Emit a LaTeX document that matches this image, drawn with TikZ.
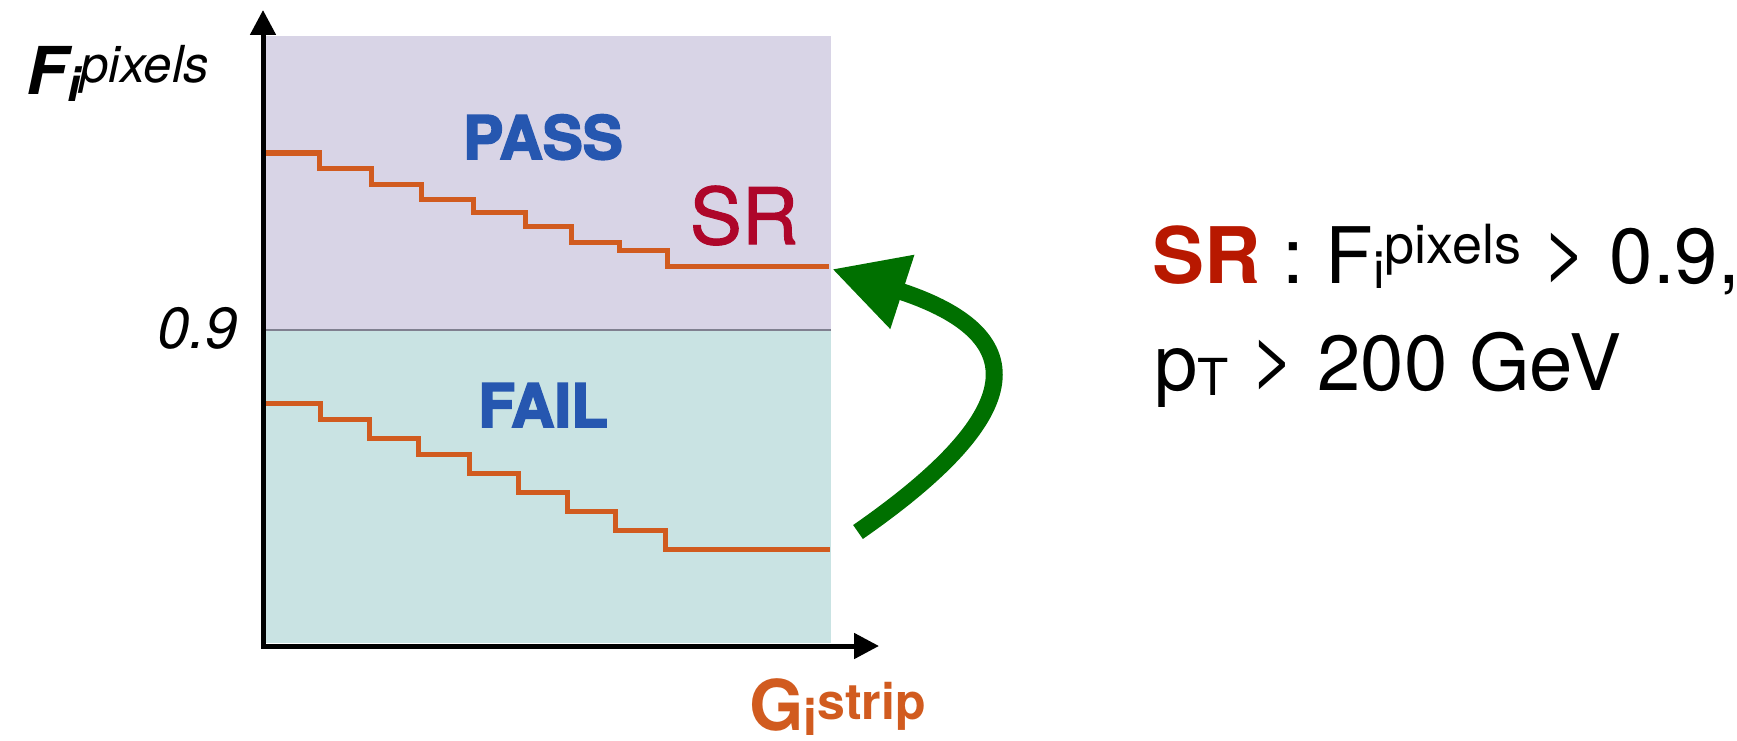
\documentclass[tikz,border=0pt]{standalone}
\usepackage{fontspec}
\setmainfont{TeX Gyre Heros}
\newfontfamily\heavyfont{TeX Gyre Heros}[FakeBold=3]
\newfontfamily\medfont{TeX Gyre Heros}[FakeBold=1.4]
\usetikzlibrary{arrows.meta}

\definecolor{passbg}{RGB}{216,212,230}
\definecolor{failbg}{RGB}{201,227,227}
\definecolor{cutline}{RGB}{128,128,144}
\definecolor{stepcol}{RGB}{209,91,31}
\definecolor{labelblue}{RGB}{38,87,176}
\definecolor{srplot}{RGB}{174,6,42}
\definecolor{srtext}{RGB}{184,24,0}
\definecolor{arrowgreen}{RGB}{0,112,0}

\newcommand\fsz[1]{\fontsize{#1}{#1}\selectfont}
\newcommand\gtsign{\raisebox{6pt}{>}}

\tikzset{
  axis/.style={line width=5pt, line join=miter,
    {Triangle[length=25pt,width=25pt]}-{Triangle[length=25pt,width=25pt]}},
  stairs/.style={draw=stepcol, line width=5pt, line join=miter},
  txt/.style={inner sep=0pt, outer sep=0pt},
  region/.style={txt, anchor=base, text=labelblue, font=\heavyfont\bfseries\fsz{60}},
  bigarrow/.style={draw=arrowgreen, line width=17pt,
    -{Triangle[length=74pt,width=73pt]}},
}

\begin{document}
\begin{tikzpicture}[x=1pt,y=-1pt]
\useasboundingbox (0,0) rectangle (1737,741);

% shaded regions above and below the cut
\fill[passbg] (263,36) rectangle (831,330);
\fill[failbg] (263,330) rectangle (831,643);
\draw[cutline, line width=2.5pt] (263,330) -- (831,330);

% stepped curves
\draw[stairs] (264,153) -| (319,168) -| (371,184) -| (421,199) -| (473,212)
  -| (525,226) -| (571,242) -| (619,250) -| (667,266) -- (829,266);
\draw[stairs] (264,403) -| (320,419) -| (369,438) -| (418,454) -| (469,473)
  -| (518,492) -| (567,511) -| (615,530) -| (665,549) -- (830,549);

% axes
\coordinate (ytip) at (263,10);
\coordinate (origin) at (263,646);
\coordinate (xtip) at (879,646);
\draw[axis] (ytip) -- (origin) -- (xtip);

% axis labels
\node[txt, anchor=base west] (ylabel) at (27,95)
  {{\bfseries\itshape\fsz{66}F}{\bfseries\itshape\fsz{47}\raisebox{-7pt}{i}}{\itshape\fsz{51}\raisebox{12pt}{pixels}}};
\node[txt, anchor=base west, text=stepcol] (xlabel) at (749,730)
  {{\bfseries\fsz{70}G}{\bfseries\fsz{50}\raisebox{-5pt}{i}}{\bfseries\fsz{50}\raisebox{11pt}{strip}}};
\node[txt, anchor=base east] (cut) at (238,348) {\itshape\fsz{58}0.9};

% region labels
\node[region] (pass) at (543,159) {PASS};
\node[region] (fail) at (543,427) {FAIL};
\node[txt, anchor=base, text=srplot, font=\medfont\fsz{78}] (sr) at (744,244) {SR};

% arrow from the failing to the passing region
\coordinate (failend) at (858,532);
\coordinate (passend) at (832,269);
\draw[bigarrow] (failend) .. controls (1022,418) and (1041,337) .. (passend);

% selection
\node[txt, anchor=base west] (cond1) at (1152,283)
  {\fsz{78}{\bfseries\color{srtext}SR} : F\raisebox{-5pt}{\fsz{52}i}\raisebox{20pt}{\fsz{54}pixels} \gtsign{} 0.9,};
\node[txt, anchor=base west] (cond2) at (1154,390)
  {\fsz{78}p\raisebox{-5pt}{\fsz{51}T} \gtsign{} 200 GeV};
\end{tikzpicture}
\end{document}
